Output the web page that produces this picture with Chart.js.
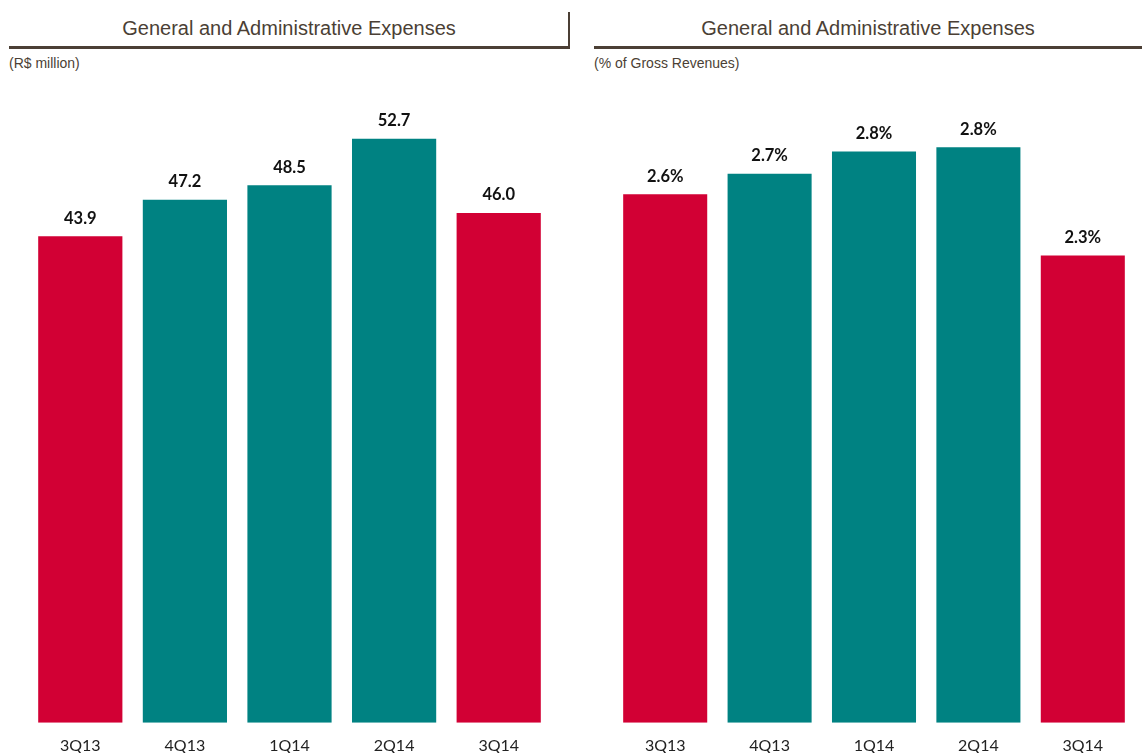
<!DOCTYPE html>
<html>
<head>
<meta charset="utf-8">
<script src="https://cdn.jsdelivr.net/npm/chart.js@4/dist/chart.umd.min.js"></script>
<style>
  body { margin: 0; background: #fff; width: 1142px; height: 753px; position: relative; overflow: hidden; font-family: "Liberation Sans", Arial, sans-serif; }
  .title { position: absolute; top: 17px; font-size: 20px; color: #4b3f35; text-align: center; }
  .rule { position: absolute; top: 46px; height: 3px; background: #4b3f35; }
  .unit { position: absolute; top: 55px; font-size: 14px; color: #4b3f35; }
  .wrap { position: absolute; top: 60px; height: 708px; }
</style>
</head>
<body>
<div class="title" style="left:10px; width:558px;">General and Administrative Expenses</div>
<div class="rule" style="left:9px; width:561px;"></div>
<div style="position:absolute; left:568px; top:12px; width:2px; height:37px; background:#4b3f35;"></div>
<div class="unit" style="left:9px;">(R$ million)</div>

<div class="title" style="left:594px; width:548px;">General and Administrative Expenses</div>
<div class="rule" style="left:594px; width:548px;"></div>
<div class="unit" style="left:594px;">(% of Gross Revenues)</div>

<div class="wrap" style="left:0; width:580px;"><canvas id="chartLeft"></canvas></div>
<div class="wrap" style="left:585px; width:557px;"><canvas id="chartRight"></canvas></div>

<script>
const quarters = ['3Q13', '4Q13', '1Q14', '2Q14', '3Q14'];
const expensesMillion = [43.9, 47.2, 48.5, 52.7, 46.0];
const expensesPct = [2.59, 2.69, 2.80, 2.82, 2.29];

const RED = '#d20034';
const TEAL = '#008282';
const barColors = [RED, TEAL, TEAL, TEAL, RED];

// draws the value above each bar
const valueLabels = {
    id: 'valueLabels',
    afterDatasetsDraw(chart, args, opts) {
        const ctx = chart.ctx;
        const meta = chart.getDatasetMeta(0);
        ctx.save();
        ctx.font = 'bold 16.5px Lato, "Open Sans", sans-serif';
        ctx.fillStyle = '#111';
        ctx.textAlign = 'center';
        ctx.textBaseline = 'middle';
        meta.data.forEach((bar, i) => {
            const v = chart.data.datasets[0].data[i];
            ctx.fillText(v.toFixed(1) + opts.suffix, bar.x, bar.y - 18);
        });
        ctx.restore();
    }
};

function makeChart(id, values, yMax, suffix, pad) {
    const ctx = document.getElementById(id).getContext('2d');
    return new Chart(ctx, {
        type: 'bar',
        data: {
            labels: quarters,
            datasets: [{
                data: values,
                backgroundColor: barColors,
                barPercentage: 0.805,
                categoryPercentage: 1.0
            }]
        },
        plugins: [valueLabels],
        options: {
            responsive: true,
            maintainAspectRatio: false,
            animation: false,
            layout: { padding: pad },
            plugins: {
                legend: { display: false },
                tooltip: { enabled: false },
                valueLabels: { suffix: suffix }
            },
            scales: {
                x: {
                    grid: { display: false, drawTicks: false },
                    border: { display: false },
                    ticks: { color: '#222', padding: 13, font: { family: 'Lato, "Open Sans", sans-serif', size: 16 } }
                },
                y: {
                    display: false,
                    min: 0,
                    max: yMax
                }
            }
        }
    });
}

makeChart('chartLeft', expensesMillion, 58, '', { left: 28, right: 29, top: 20, bottom: 0 });
makeChart('chartRight', expensesPct, 3.15, '%', { left: 28, right: 7, top: 20, bottom: 0 });
</script>
</body>
</html>
